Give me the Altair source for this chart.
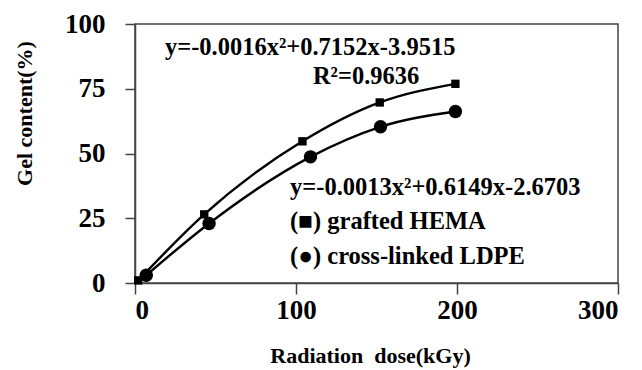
import altair as alt
import pandas as pd

hema_dose = [2, 43, 104, 152, 199]
hema_gel = [1, 26.5, 54.7, 69.7, 76.9]
ldpe_dose = [7, 46, 109, 152.5, 199]
ldpe_gel = [3, 23, 48.7, 60.3, 66.2]

ann_text = ["y=-0.0016x²+0.7152x-3.9515", "R²=0.9636",
            "y=-0.0013x²+0.6149x-2.6703", "(■) grafted HEMA",
            "(●) cross-linked LDPE"]
ann_x = [18.6, 110.5, 96.3, 96.3, 96.3]
ann_y = [90.7, 79.5, 36.7, 23.6, 10.0]

df = pd.DataFrame({
    "dose": hema_dose + ldpe_dose,
    "gel": hema_gel + ldpe_gel,
    "series": ["HEMA"] * len(hema_dose) + ["LDPE"] * len(ldpe_dose),
})
ann = pd.DataFrame({"t": ann_text, "x": ann_x, "y": ann_y})

FONT = "Liberation Serif"

xenc = alt.X("dose:Q", scale=alt.Scale(domain=[0, 300], nice=False),
             axis=alt.Axis(values=[0, 100, 200, 300], title="Radiation\u00a0\u00a0dose(kGy)",
                           titleX=235, titleY=72, titleBaseline="middle", titleAlign="center",
                           labelPadding=3, tickSize=11))
yenc = alt.Y("gel:Q", scale=alt.Scale(domain=[0, 100], nice=False),
             axis=alt.Axis(values=[0, 25, 50, 75, 100], title="Gel content(%)",
                           titleX=-111, titleY=89, titleAngle=-90, titleBaseline="middle",
                           titleAlign="center", labelPadding=20, tickSize=10))

base = alt.Chart(df).encode(x=xenc, y=yenc)

lines = base.mark_line(color="black", strokeWidth=2.4, interpolate="monotone").encode(
    detail="series:N")
points = base.mark_point(filled=True, color="black", opacity=1).encode(
    shape=alt.Shape("series:N", scale=alt.Scale(domain=["HEMA", "LDPE"], range=["square", "circle"]), legend=None),
    size=alt.Size("series:N", scale=alt.Scale(domain=["HEMA", "LDPE"], range=[70, 180]), legend=None),
)
texts = alt.Chart(ann).mark_text(align="left", baseline="middle", font=FONT, fontWeight="bold",
                                 fontSize=24.5, color="black").encode(
    x=alt.X("x:Q", scale=alt.Scale(domain=[0, 300], nice=False)),
    y=alt.Y("y:Q", scale=alt.Scale(domain=[0, 100], nice=False)),
    text="t:N")

chart = (lines + points + texts).properties(
    width=483, height=259,
    background="white",
    autosize=alt.AutoSizeParams(type="none"),
    padding={"left": 135, "top": 24, "right": 24, "bottom": 87},
).configure_view(stroke="#444", strokeWidth=1.5).configure_axis(
    grid=False, labelFont=FONT, labelFontWeight="bold", labelFontSize=27, labelColor="black",
    titleFont=FONT, titleFontWeight="bold", titleFontSize=22, titleColor="black",
    domainColor="#444", tickColor="#444", domainWidth=1.5, tickWidth=1.5,
)

chart.save("out.html", embed_options={"renderer": "svg", "actions": False})
